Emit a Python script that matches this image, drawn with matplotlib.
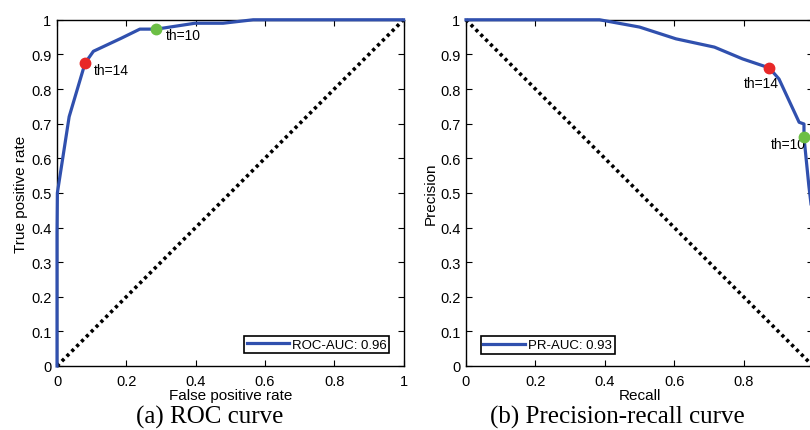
import matplotlib
matplotlib.use("Agg")
import matplotlib.pyplot as plt

plt.rcParams['font.family'] = ['Liberation Sans', 'DejaVu Sans']

# ROC curve
roc_fpr = [0.0, 0.0, 0.001, 0.035, 0.081, 0.105, 0.186, 0.239, 0.287, 0.398, 0.479, 0.566, 1.0]
roc_tpr = [0.0, 0.386, 0.50, 0.72, 0.875, 0.909, 0.947, 0.973, 0.973, 0.99, 0.99, 1.0, 1.0]
roc_th14 = (0.081, 0.875)
roc_th10 = (0.287, 0.973)

# Precision-recall curve
pr_recall = [0.0, 0.385, 0.50, 0.605, 0.716, 0.797, 0.874, 0.902, 0.96, 0.974, 0.974, 0.988, 1.0]
pr_precision = [1.0, 1.0, 0.979, 0.945, 0.921, 0.887, 0.861, 0.829, 0.704, 0.699, 0.661, 0.521, 0.42]
pr_th14 = (0.874, 0.861)
pr_th10 = (0.974, 0.661)

ticks = [0, 0.2, 0.4, 0.6, 0.8, 1]
tick_labels = ["0", "0.2", "0.4", "0.6", "0.8", "1"]
# last label of the PR plot falls outside the cropped picture
tick_labels_pr = ["0", "0.2", "0.4", "0.6", "0.8", ""]
yticks = [0, 0.1, 0.2, 0.3, 0.4, 0.5, 0.6, 0.7, 0.8, 0.9, 1]
ytick_labels = ["0", "0.1", "0.2", "0.3", "0.4", "0.5", "0.6", "0.7", "0.8", "0.9", "1"]

blue = '#3050ae'
red = '#e82828'
green = '#6cbf45'

fig = plt.figure(figsize=(8.1, 4.31), dpi=100)
ax1 = fig.add_axes([0.0704, 0.1485, 0.4278, 0.8033])
ax2 = fig.add_axes([0.5753, 0.1485, 0.4284, 0.8033])

for ax, xl in ((ax1, tick_labels), (ax2, tick_labels_pr)):
    ax.set_xlim(0, 1)
    ax.set_ylim(0, 1)
    ax.set_xticks(ticks)
    ax.set_xticklabels(xl)
    ax.set_yticks(yticks)
    ax.set_yticklabels(ytick_labels)
    ax.tick_params(direction='in', top=True, right=True, length=4, width=0.8,
                   labelsize=10.5)
    ax.tick_params(axis='x', pad=6)
    ax.tick_params(axis='y', pad=4)
    for s in ax.spines.values():
        s.set_linewidth(1.0)

# (a) ROC
ax1.plot([0, 1], [0, 1], color='black', lw=2.6, linestyle=(0, (0.9, 1.0)), clip_on=False)
ax1.plot(roc_fpr, roc_tpr, color=blue, lw=2.3, label='ROC-AUC: 0.96', clip_on=False, zorder=3)
ax1.plot(*roc_th14, 'o', color=red, ms=7.5, zorder=4)
ax1.plot(*roc_th10, 'o', color=green, ms=7.5, zorder=4)
ax1.annotate('th=14', roc_th14, xytext=(6, -5), textcoords='offset points',
             fontsize=10, va='center', ha='left')
ax1.annotate('th=10', roc_th10, xytext=(7, -4), textcoords='offset points',
             fontsize=10, va='center', ha='left')
ax1.set_xlabel('False positive rate', fontsize=11, labelpad=0)
ax1.set_ylabel('True positive rate', fontsize=11, labelpad=2)
leg1 = ax1.legend(loc='lower right', bbox_to_anchor=(0.958, 0.037), fontsize=9.5,
                  fancybox=False, edgecolor='black', framealpha=1, borderpad=0.2,
                  handlelength=3.2, handletextpad=0.2, borderaxespad=0)
leg1.get_frame().set_linewidth(1.2)

# (b) Precision-recall
ax2.plot([0, 1], [1, 0], color='black', lw=2.6, linestyle=(0, (0.9, 1.0)), clip_on=False)
ax2.plot(pr_recall, pr_precision, color=blue, lw=2.3, label='PR-AUC: 0.93', clip_on=False, zorder=3)
ax2.plot(*pr_th14, 'o', color=red, ms=7.5, zorder=4)
ax2.plot(*pr_th10, 'o', color=green, ms=7.5, zorder=4)
ax2.annotate('th=14', pr_th14, xytext=(-6, -11), textcoords='offset points',
             fontsize=10, va='center', ha='center')
ax2.annotate('th=10', pr_th10, xytext=(1, -5), textcoords='offset points',
             fontsize=10, va='center', ha='right')
ax2.set_xlabel('Recall', fontsize=11, labelpad=0)
ax2.set_ylabel('Precision', fontsize=11, labelpad=2)
leg2 = ax2.legend(loc='lower left', bbox_to_anchor=(0.042, 0.035), fontsize=9.5,
                  fancybox=False, edgecolor='black', framealpha=1, borderpad=0.2,
                  handlelength=3.2, handletextpad=0.2, borderaxespad=0)
leg2.get_frame().set_linewidth(1.2)

# captions
fig.text(0.2593, 0.018, '(a) ROC curve', family='Liberation Serif', fontsize=18,
         ha='center', va='baseline')
fig.text(0.7617, 0.018, '(b) Precision-recall curve', family='Liberation Serif', fontsize=18,
         ha='center', va='baseline')

fig.savefig('out.png', dpi=100)
